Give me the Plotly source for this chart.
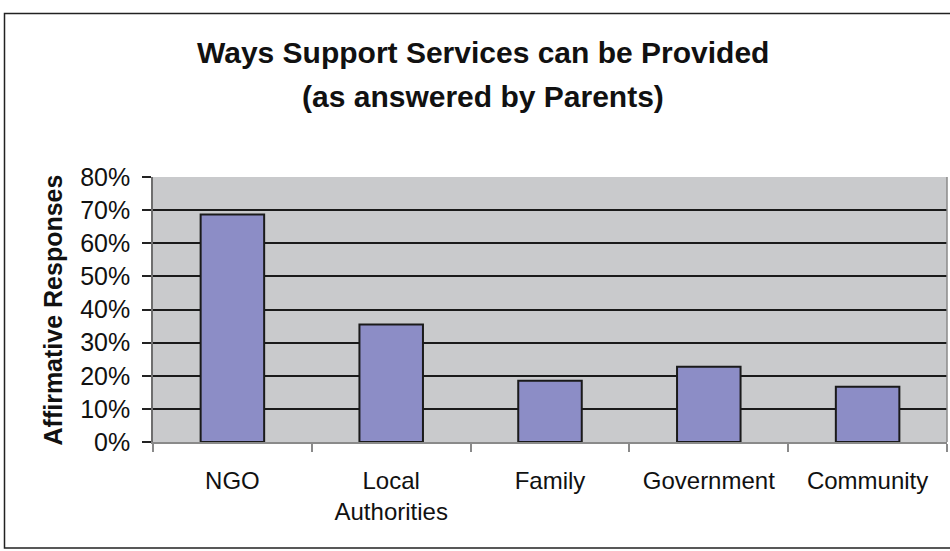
import plotly.graph_objects as go

categories = ["NGO", "Local<br>Authorities", "Family", "Government", "Community"]
responses = [0.687, 0.355, 0.185, 0.227, 0.167]
y_ticks = [0, 0.1, 0.2, 0.3, 0.4, 0.5, 0.6, 0.7, 0.8]
y_tick_labels = ["0%", "10%", "20%", "30%", "40%", "50%", "60%", "70%", "80%"]

FONT = "Liberation Sans, Arial, sans-serif"

fig = go.Figure(
    go.Bar(
        x=categories,
        y=responses,
        width=0.4,
        marker=dict(color="#8C8DC6", line=dict(color="#1A1A1A", width=2)),
    )
)

W, H = 950, 551
L, R, T, B = 153, 3, 177, 109
pw, ph = W - L - R, H - T - B

def px(x):
    return (x - L) / pw

def py(y):
    return (H - B - y) / ph

fig.update_layout(
    width=W,
    height=H,
    margin=dict(l=L, r=R, t=T, b=B),
    paper_bgcolor="white",
    plot_bgcolor="#C9CACC",
    showlegend=False,
    font=dict(family=FONT, size=24, color="#111111"),
)

fig.update_xaxes(
    showline=True,
    linecolor="#8A8A8A",
    linewidth=1.5,
    ticks="outside",
    tickson="boundaries",
    ticklen=8,
    tickcolor="#8A8A8A",
    tickwidth=1.5,
    tickfont=dict(size=24),
    ticklabelstandoff=16,
    showgrid=False,
)

fig.update_yaxes(
    range=[0, 0.8],
    tickvals=y_ticks,
    ticktext=y_tick_labels,
    showline=True,
    linecolor="#6E6E6E",
    linewidth=1.5,
    ticks="outside",
    ticklen=9,
    tickcolor="#222222",
    tickwidth=1.5,
    ticklabelstandoff=7,
    showgrid=True,
    gridcolor="#1A1A1A",
    gridwidth=1.5,
    zeroline=False,
    tickfont=dict(size=25),
)

# Vertical axis title
fig.add_annotation(
    text="<b>Affirmative Responses</b>",
    xref="paper", yref="paper", x=px(52.5), y=py(310),
    showarrow=False, textangle=-90, font=dict(size=25, family=FONT),
    xanchor="center", yanchor="middle",
)

# Title lines
fig.add_annotation(
    text="<b>Ways Support Services can be Provided</b>",
    xref="paper", yref="paper", x=px(483), y=py(52),
    showarrow=False, font=dict(size=30, family=FONT), xanchor="center", yanchor="middle",
)
fig.add_annotation(
    text="<b>(as answered by Parents)</b>",
    xref="paper", yref="paper", x=px(483), y=py(96),
    showarrow=False, font=dict(size=30, family=FONT), xanchor="center", yanchor="middle",
)

# Right edge of plot area
fig.add_shape(
    type="line", xref="paper", yref="paper", x0=1, x1=1, y0=0, y1=1,
    line=dict(color="#8A8A8A", width=1.5),
)

# Outer chart frame
fig.add_shape(
    type="rect", xref="paper", yref="paper",
    x0=px(4.5), x1=px(952), y0=py(548), y1=py(13.5),
    line=dict(color="#222222", width=1.5), fillcolor="rgba(0,0,0,0)", layer="below",
)

fig.write_html("out.html")
